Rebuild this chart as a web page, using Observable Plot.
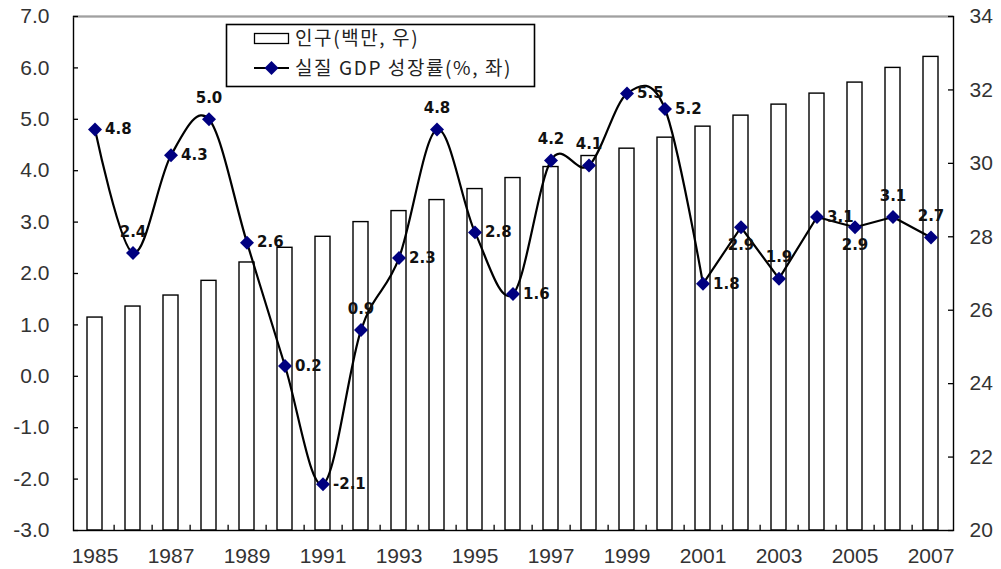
<!DOCTYPE html>
<html><head><meta charset="utf-8">
<script src="https://cdn.jsdelivr.net/npm/d3@7"></script>
<script src="https://cdn.jsdelivr.net/npm/@observablehq/plot@0.6"></script>
<style>
html,body{margin:0;padding:0;background:#fff;}
#chart{position:relative;width:1001px;height:569px;}
</style></head><body><div id="chart"></div>
<script>
const years = [1985,1986,1987,1988,1989,1990,1991,1992,1993,1994,1995,1996,1997,1998,1999,2000,2001,2002,2003,2004,2005,2006,2007];
const gdpGrowth = [4.8,2.4,4.3,5.0,2.6,0.2,-2.1,0.9,2.3,4.8,2.8,1.6,4.2,4.1,5.5,5.2,1.8,2.9,1.9,3.1,2.9,3.1,2.7];
const population = [25.8,26.1,26.4,26.8,27.3,27.7,28.0,28.4,28.7,29.0,29.3,29.6,29.9,30.2,30.4,30.7,31.0,31.3,31.6,31.9,32.2,32.6,32.9];
const xTickLabels = [1985,1987,1989,1991,1993,1995,1997,1999,2001,2003,2005,2007];
const leftTicks = [-3,-2,-1,0,1,2,3,4,5,6,7];
const rightTicks = [20,22,24,26,28,30,32,34];
const labelAbove = [1986,1988,1992,1994,1997,1998,2003,2006,2007];
const labelBelow = [2002,2005];
const legendPop = "인구(백만, 우)";
const legendGdp = "실질 GDP 성장률(%, 좌)";

const W = 1001, H = 569, mL = 73, mR = 48, mT = 16, mB = 39;
const plotW = W - mL - mR;
const step = plotW / years.length;
const L0 = -3, L1 = 7, R0 = 20, R1 = 34;
const toLeft = p => L0 + (p - R0) * (L1 - L0) / (R1 - R0);
const fromLeft = v => R0 + (v - L0) * (R1 - R0) / (L1 - L0);

const data = years.map((year, i) => ({year, gdp: gdpGrowth[i], pop: population[i]}));
const rightLab = data.filter(d => !labelAbove.includes(d.year) && !labelBelow.includes(d.year));
const aboveLab = data.filter(d => labelAbove.includes(d.year));
const belowLab = data.filter(d => labelBelow.includes(d.year));
const fmt = d => d.gdp.toFixed(1);
const labFont = {fontFamily: "'DejaVu Sans', sans-serif", fontWeight: "bold", fontSize: 15, fill: "#111"};
const dotR = 6.3;

const chart = Plot.plot({
  width: W, height: H, marginLeft: mL, marginRight: mR, marginTop: mT, marginBottom: mB,
  style: {fontFamily: "'Liberation Sans', Arial, sans-serif", fontSize: "21px", color: "#333", background: "#fff"},
  x: {type: "band", domain: years, paddingInner: 0.6, paddingOuter: 0.3},
  y: {domain: [L0, L1]},
  marks: [
    Plot.barY(data, {x: "year", y1: L0, y2: d => toLeft(d.pop), fill: "white", stroke: "black", strokeWidth: 1.4}),
    Plot.frame({stroke: "black", strokeWidth: 1.4}),
    Plot.ruleY([L1], {stroke: "#a0a0a0", strokeWidth: 1.4}),
    Plot.ruleY(leftTicks, {insetRight: plotW - 5, stroke: "black", strokeWidth: 1.3}),
    Plot.ruleY(rightTicks.map(toLeft), {insetLeft: plotW - 5, stroke: "black", strokeWidth: 1.3}),
    Plot.ruleX(years.slice(0, -1), {x: d => d, y1: L0, y2: L0 + 0.1, dx: step / 2, stroke: "black", strokeWidth: 1.3}),
    Plot.axisY(leftTicks, {anchor: "left", tickSize: 0, tickPadding: 24, tickFormat: d => d.toFixed(1), label: null, fontSize: 21}),
    Plot.axisY(rightTicks.map(toLeft), {anchor: "right", tickSize: 0, tickPadding: 16, tickFormat: d => String(Math.round(fromLeft(d))), label: null, fontSize: 21}),
    Plot.axisX(xTickLabels, {anchor: "bottom", tickSize: 0, tickPadding: 18, tickFormat: d => String(d), label: null, fontSize: 21}),
    Plot.line(data.filter(d => d.year <= 2001), {x: "year", y: "gdp", curve: "cardinal", stroke: "black", strokeWidth: 2.2}),
    Plot.line(data.filter(d => d.year >= 2001), {x: "year", y: "gdp", stroke: "black", strokeWidth: 2.2}),
    Plot.dot(data, {x: "year", y: "gdp", symbol: "diamond2", r: dotR, fill: "#000080", stroke: "none"}),
    Plot.text(rightLab, {x: "year", y: "gdp", text: fmt, textAnchor: "start", dx: 10, ...labFont}),
    Plot.text(aboveLab, {x: "year", y: "gdp", text: fmt, dy: -21, ...labFont}),
    Plot.text(belowLab, {x: "year", y: "gdp", text: fmt, dy: 18, ...labFont})
  ]
});

// Legend inside the plot area
const svg = d3.select(chart);
const lg = svg.append("g")
  .attr("font-family", "'Noto Sans CJK KR', sans-serif")
  .attr("font-size", 19)
  .attr("text-anchor", "start")
  .attr("fill", "#222");
lg.append("rect").attr("x", 226.5).attr("y", 24.5).attr("width", 308).attr("height", 62)
  .attr("fill", "white").attr("stroke", "black").attr("stroke-width", 1.6);
lg.append("rect").attr("x", 254.5).attr("y", 33.5).attr("width", 34).attr("height", 10)
  .attr("fill", "white").attr("stroke", "black").attr("stroke-width", 1.3);
lg.append("text").attr("x", 295).attr("y", 38).attr("dy", "0.35em").attr("text-anchor", "start")
  .attr("letter-spacing", "1.6px").text(legendPop);
lg.append("line").attr("x1", 254).attr("x2", 289).attr("y1", 68).attr("y2", 68)
  .attr("stroke", "black").attr("stroke-width", 2.2);
lg.append("path").attr("d", d3.symbol(d3.symbolDiamond2, Math.PI * dotR * dotR)())
  .attr("transform", "translate(271.5,68)").attr("fill", "#000080");
lg.append("text").attr("x", 295).attr("y", 68).attr("dy", "0.35em").attr("text-anchor", "start")
  .attr("letter-spacing", "1.6px").text(legendGdp);

document.getElementById("chart").appendChild(chart);
</script>
</body></html>
